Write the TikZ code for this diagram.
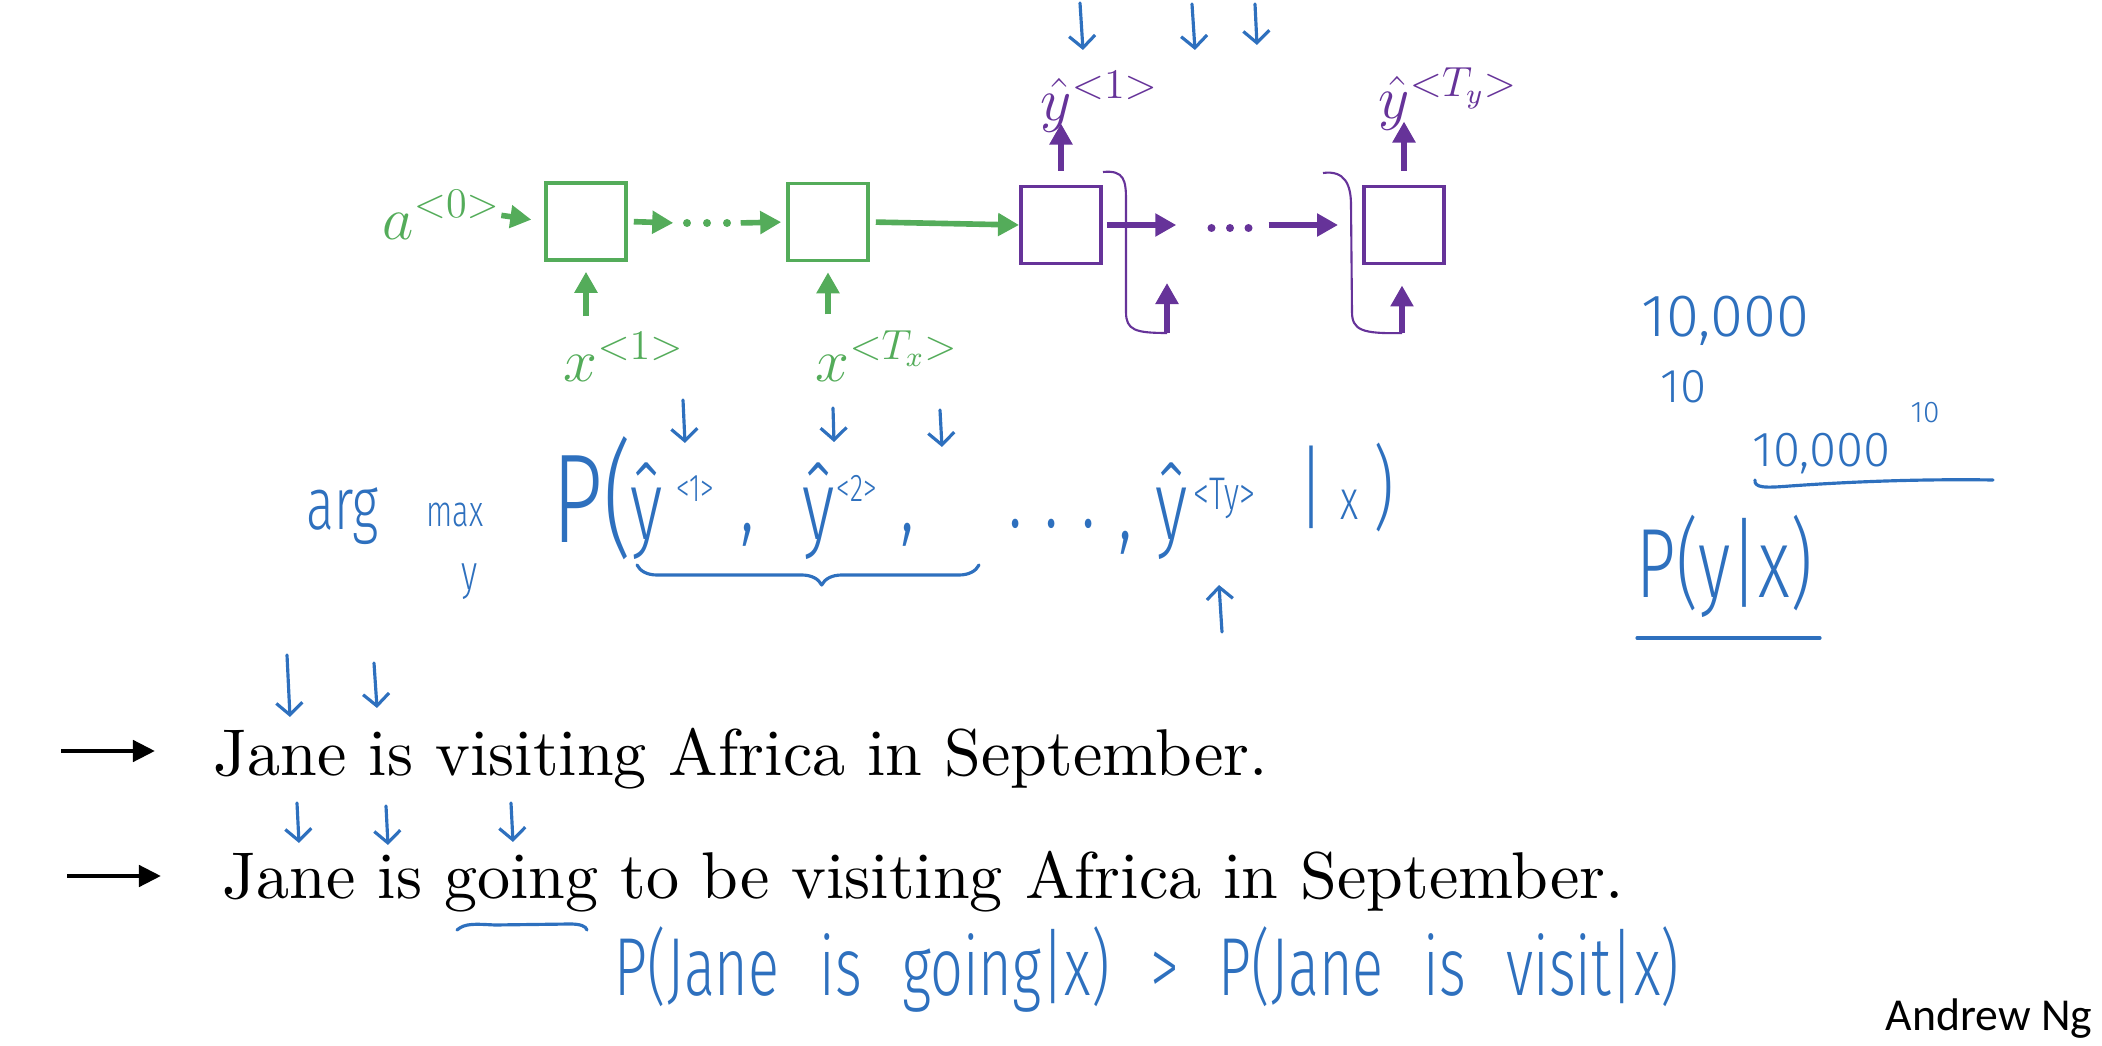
\documentclass[tikz,border=0pt]{standalone}
\usepackage{fontspec}
\newfontfamily\handfont[FakeStretch=0.7,WordSpace=2.5]{Fira Sans Light}
\newfontfamily\handnum{Fira Sans Light}
\newfontfamily\creditfont{Carlito}
\newfontfamily\sentfont{lmroman10-regular.otf}
\usetikzlibrary{arrows.meta,decorations.pathreplacing}
\definecolor{rnngreen}{RGB}{84,172,90}
\definecolor{rnnpurple}{RGB}{102,51,153}
\definecolor{inkblue}{RGB}{46,112,190}
\begin{document}
\begin{tikzpicture}[x=0.01cm,y=-0.01cm]
\tikzstyle{every node}+=[inner sep=0pt]
\tikzstyle{gcell}=[draw=rnngreen,line width=1pt,minimum width=0.8cm,minimum height=0.77cm]
\tikzstyle{pcell}=[draw=rnnpurple,line width=1.1pt,minimum width=0.8cm,minimum height=0.77cm]
\tikzstyle{gflow}=[rnngreen,line width=1.6pt,-{Triangle[length=0.21cm,width=0.22cm]}]
\tikzstyle{pflow}=[rnnpurple,line width=1.6pt,-{Triangle[length=0.21cm,width=0.22cm]}]
\tikzstyle{ploop}=[rnnpurple,line width=0.6pt]
\tikzstyle{dotgap}=[minimum width=0.6cm,minimum height=0.1cm]
\tikzstyle{lbl}=[anchor=base west,font=\fontsize{17}{20}\selectfont]
\tikzstyle{ink}=[inkblue,line width=0.9pt,line cap=round,line join=round]
\tikzstyle{inkarrow}=[ink,-{Straight Barb[length=0.12cm,width=0.26cm]}]
\tikzstyle{hand}=[text=inkblue,anchor=base west]
\tikzstyle{pointer}=[black,line width=1.3pt,-{Triangle[length=0.22cm,width=0.21cm]}]
\tikzstyle{sentence}=[anchor=base west,font=\sentfont\fontsize{18.8}{22}\selectfont]
\useasboundingbox (0,0) rectangle (2102,1046);
% encoder
\node[lbl,text=rnngreen] (a0) at (382,240) {$a^{<0>}$};
\node[gcell] (b1) at (586,221.5) {};
\node[dotgap] (d1) at (707,223) {};
\node[gcell] (b2) at (828,222) {};
\node[lbl,text=rnngreen] (x1) at (563,382) {$x^{<1>}$};
\node[lbl,text=rnngreen] (xT) at (815,382) {$x^{<T_x>}$};
\fill[rnngreen] (d1.center) circle (4) ([xshift=-0.2cm]d1.center) circle (4) ([xshift=0.2cm]d1.center) circle (4);
\draw[gflow,shorten >=0.13cm] (a0.east) -- (b1.west);
\draw[gflow,shorten <=0.06cm,shorten >=0.03cm] (b1.east) -- (d1.west);
\draw[gflow,shorten <=0.03cm,shorten >=0.05cm] (d1.east) -- (b2.west);
\draw[gflow,shorten <=0.16cm,shorten >=0.1cm] (x1.north -| b1.south) -- (b1.south);
\draw[gflow,shorten <=0.16cm,shorten >=0.1cm] (xT.north -| b2.south) -- (b2.south);
% decoder
\node[pcell] (b3) at (1061,225) {};
\node[dotgap] (d2) at (1230,228) {};
\node[pcell] (b4) at (1404,225) {};
\node[lbl,text=rnnpurple] (y1) at (1040,121) {$\hat{y}^{<1>}$};
\node[lbl,text=rnnpurple] (yT) at (1378,119) {$\hat{y}^{<T_y>}$};
\draw[gflow,shorten <=0.06cm] (b2.east) -- (b3.west);
\fill[rnnpurple] (d2.center) circle (4) ([xshift=-0.185cm]d2.center) circle (4) ([xshift=0.185cm]d2.center) circle (4);
\draw[pflow,shorten <=0.04cm,shorten >=0.23cm] (b3.east) -- (b3.east -| d2.west);
\draw[pflow,shorten <=0.08cm,shorten >=0.24cm] (b4.west -| d2.east) -- (b4.west);
\draw[pflow,shorten <=0.14cm,shorten >=-0.1cm] (b3.north) -- (y1.south -| b3.north);
\draw[pflow,shorten <=0.14cm,shorten >=-0.1cm] (b4.north) -- (yT.south -| b4.north);
\coordinate (o1) at (1103,172);
\coordinate (i1) at (1167,333);
\coordinate (u1) at (1167,283);
\coordinate (o2) at (1323,173);
\coordinate (i2) at (1402,333);
\draw[ploop] (o1) .. controls (1124,170) and (1126,180) .. (1126,200) -- (1126,312) .. controls (1126,330) and (1135,333) .. (i1);
\draw[pflow] (i1) -- (u1);
\draw[ploop] (o2) .. controls (1345,170) and (1351,185) .. (1351,205) -- (1352,312) .. controls (1352,330) and (1362,334) .. (i2);
\draw[pflow,shorten >=0.2cm] (i2) -- (i2 |- b4.south);
% ink notes
\draw[inkarrow] (1080,3) -- (1083,50);
\draw[inkarrow] (1192,4) -- (1195,50);
\draw[inkarrow] (1255,4) -- (1257,45);
\draw[inkarrow] (683,400) -- (685,443);
\draw[inkarrow] (833,408) -- (834,442);
\draw[inkarrow] (940,410) -- (942,447);
\draw[inkarrow] (1222,632) -- (1219,585);
\node[hand,font=\handfont\fontsize{21}{21}\selectfont] (arg) at (306,530) {arg};
\node[hand,font=\handfont\fontsize{12.5}{13}\selectfont] (max) at (426,527) {max};
\node[text=inkblue,font=\handfont\fontsize{14}{14}\selectfont] (argy) at (470,582) {y};
\node[hand,font=\handfont\fontsize{36}{36}\selectfont] (pP) at (552,543) {P(};
\node[hand,font=\handfont\fontsize{28}{28}\selectfont] (yh1) at (630,540) {\^{y}};
\node[hand,font=\handfont\fontsize{11}{11}\selectfont] (e1) at (676,502) {<1>};
\node[hand,font=\handfont\fontsize{28}{28}\selectfont] (c1) at (740,532) {,};
\node[hand,font=\handfont\fontsize{28}{28}\selectfont] (yh2) at (802,540) {\^{y}};
\node[hand,font=\handfont\fontsize{11}{11}\selectfont] (e2) at (836,502) {<2>};
\node[hand,font=\handfont\fontsize{28}{28}\selectfont] (c2) at (900,532) {,};
\node[hand,font=\handfont\fontsize{28}{28}\selectfont] (dd) at (1008,528) {.\hspace{0.22cm}.\hspace{0.22cm}.};
\node[hand,font=\handfont\fontsize{28}{28}\selectfont] (c3) at (1118,540) {,};
\node[hand,font=\handfont\fontsize{28}{28}\selectfont] (yhT) at (1155,540) {\^{y}};
\node[hand,font=\handfont\fontsize{13}{13}\selectfont] (eT) at (1193,510) {<Ty>};
\node[hand,font=\handfont\fontsize{26}{26}\selectfont] (gx) at (1298,520) {|\,{\fontsize{16}{16}\selectfont x}\,)};
\draw[ink,decorate,decoration={brace,mirror,amplitude=0.2cm,aspect=0.54}] (637,565) -- (979,565);
\node[hand,font=\handnum\fontsize{17}{17}\selectfont] (n10k) at (1641,337) {10,000};
\node[hand,font=\handnum\fontsize{13.5}{14}\selectfont] (n10) at (1660,403) {10};
\node[hand,font=\handnum\fontsize{14}{14}\selectfont] (npow) at (1752,467) {10,000};
\node[hand,font=\handnum\fontsize{8.5}{9}\selectfont] (nexp) at (1910,423) {10};
\draw[ink] (1755,480) .. controls (1754,488) and (1765,488) .. (1790,486) .. controls (1860,481) and (1930,479) .. (1993,480);
\node[hand,font=\handfont\fontsize{28}{28}\selectfont] (pyx) at (1636,598) {P(y|x)};
\draw[ink] (1637,638) -- (1820,638);
% sentences
\node[sentence] (s1) at (213,775) {Jane is visiting Africa in September.};
\node[sentence] (s2) at (222,898) {Jane is going to be visiting Africa in September.};
\coordinate (m1) at (61,751);
\coordinate (m2) at (67,876);
\draw[pointer,shorten >=0.58cm] (m1) -- (m1 -| s1.west);
\draw[pointer,shorten >=0.61cm] (m2) -- (m2 -| s2.west);
\draw[inkarrow] (287,655) -- (290,717);
\draw[inkarrow] (374,663) -- (377,708);
\draw[inkarrow] (297,803) -- (299,843);
\draw[inkarrow] (386,806) -- (388,845);
\draw[inkarrow] (511,803) -- (513,842);
\draw[ink] (457,930) .. controls (465,923) and (475,924) .. (495,925) -- (570,924) .. controls (580,924) and (586,926) .. (587,930);
\node[hand,font=\handfont\fontsize{23.4}{24}\selectfont] (cmp) at (614,995) {P(Jane is going|x) > P(Jane is visit|x)};
\node[anchor=base east,font=\creditfont\fontsize{13}{16}\selectfont] (credit) at (2093,1030) {Andrew Ng};
\end{tikzpicture}
\end{document}
